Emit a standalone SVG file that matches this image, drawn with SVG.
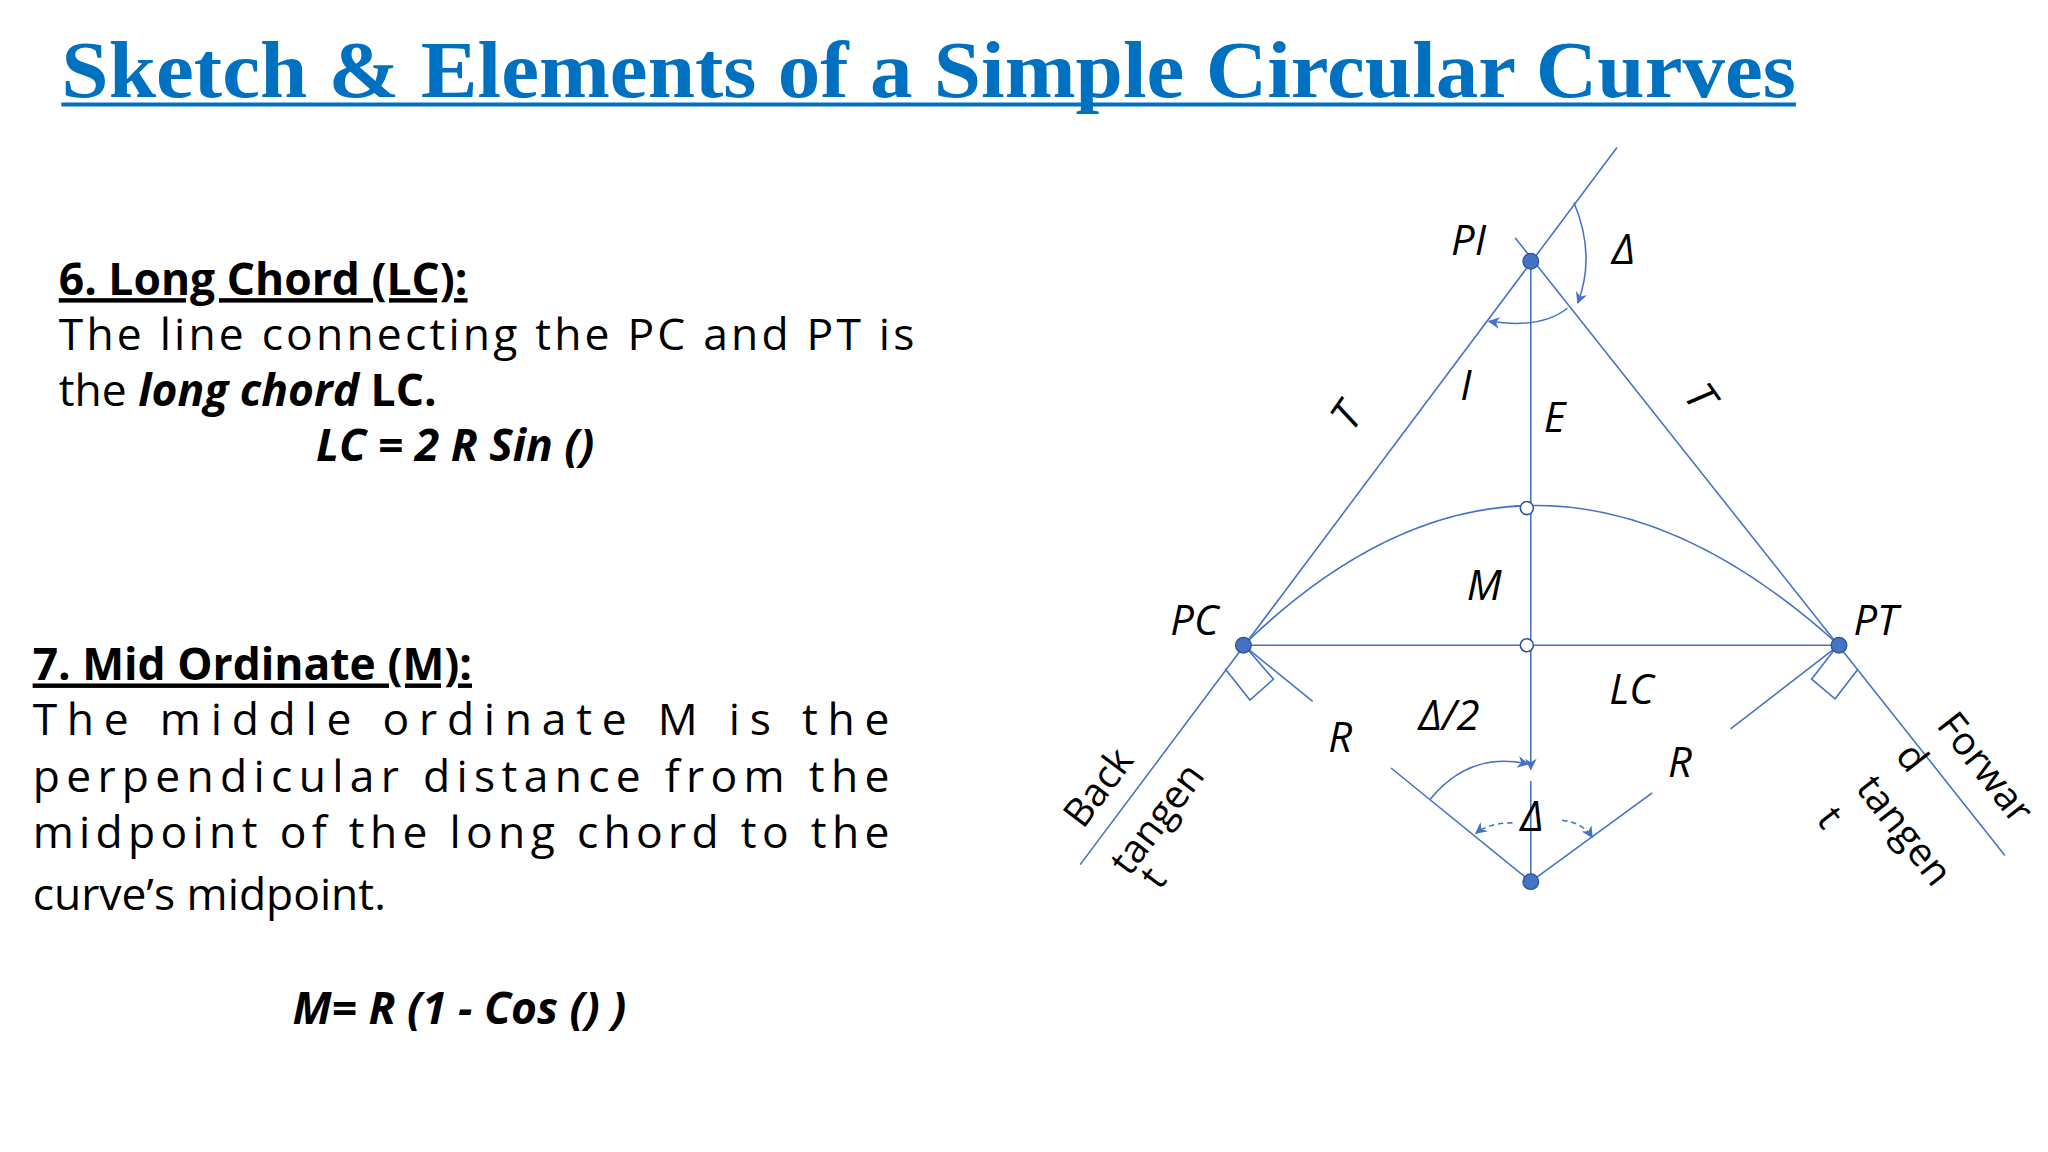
<svg xmlns="http://www.w3.org/2000/svg" width="2048" height="1152" viewBox="0 0 2048 1152">
<style>
.t{font-family:"Open Sans","Noto Sans",sans-serif;font-size:34px;fill:#000}
.b{font-weight:bold}
.l{font-family:"Open Sans","Noto Sans",sans-serif;font-style:italic;font-size:32px;fill:#000}
.n{font-family:"Open Sans","Noto Sans",sans-serif;font-size:30px;fill:#000}
.ln{stroke:#4472C4;stroke-width:1.2;fill:none}
.dot{fill:#4472C4;stroke:#2F5597;stroke-width:1}
.oc{fill:#fff;stroke:#2F5597;stroke-width:1.2}
</style>
<defs>
<marker id="ar" viewBox="0 0 10 10" refX="9" refY="5" markerWidth="9" markerHeight="9" orient="auto" markerUnits="userSpaceOnUse"><path d="M0,0 L10,5 L0,10 L3,5 Z" fill="#4472C4"/></marker>
</defs>
<rect width="2048" height="1152" fill="#fff"/>
<g transform="scale(1.30612)">
<g id="title">
<text x="47" y="74" font-family="Liberation Serif,serif" font-weight="bold" font-size="62" fill="#0070C0" textLength="1328" lengthAdjust="spacingAndGlyphs">Sketch &amp; Elements of a Simple Circular Curves</text>
<line x1="47" y1="80" x2="1375" y2="80" stroke="#0070C0" stroke-width="3"/>
</g>
<g id="sec6">
<text class="t b" x="45" y="226" text-decoration="underline">6. Long Chord (LC):</text>
<text class="t" x="45" y="268" textLength="655" lengthAdjust="spacing">The line connecting the PC and PT is</text>
<text class="t" x="45" y="311">the <tspan class="b" font-style="italic">long chord</tspan><tspan class="b"> LC.</tspan></text>
<text class="t b" font-style="italic" x="242" y="353" font-size="32">LC = 2 R Sin ()</text>
</g>
<g id="sec7">
<text class="t b" x="25" y="521" text-decoration="underline">7. Mid Ordinate (M):</text>
<text class="t" x="25" y="563" textLength="656" lengthAdjust="spacing" word-spacing="0">The middle ordinate M is the</text>
<text class="t" x="25" y="606" textLength="656" lengthAdjust="spacing">perpendicular distance from the</text>
<text class="t" x="25" y="649" textLength="656" lengthAdjust="spacing">midpoint of the long chord to the</text>
<text class="t" x="25" y="697">curve’s midpoint.</text>
<text class="t b" font-style="italic" x="224" y="784" font-size="32">M= R (1 - Cos () )</text>
</g>
<g id="connectors">
<line class="ln" x1="827" y1="662" x2="1238" y2="113"/>
<line class="ln" x1="1160" y1="182" x2="1535" y2="655"/>
<line class="ln" x1="952" y1="494" x2="1408" y2="494"/>
<line class="ln" x1="1172" y1="200" x2="1172" y2="589" marker-end="url(#ar)"/>
<line class="ln" x1="1172" y1="598" x2="1172" y2="675"/>
<path class="ln" d="M952,494 Q1172,280 1408,494"/>
<line class="ln" x1="952" y1="494" x2="1005" y2="537"/>
<line class="ln" x1="1065" y1="588" x2="1172" y2="675"/>
<line class="ln" x1="1408" y1="494" x2="1325" y2="558"/>
<line class="ln" x1="1265" y1="607" x2="1172" y2="675"/>
<path class="ln" d="M938,512 L957,536 L975,520 L956,498"/>
<path class="ln" d="M1422,513 L1405,535 L1387,520 L1404,498"/>
<path class="ln" d="M1205,155 Q1222,195 1208,232" marker-end="url(#ar)"/>
<path class="ln" d="M1200,236 Q1180,252 1140,246" marker-end="url(#ar)"/>
<path class="ln" d="M1095,612 Q1125,575 1170,585" marker-end="url(#ar)"/>
<path class="ln" d="M1158,630 Q1140,630 1130,638" stroke-dasharray="4,3" marker-end="url(#ar)"/>
<path class="ln" d="M1196,628 Q1212,630 1219,641" stroke-dasharray="4,3" marker-end="url(#ar)"/>
</g>
<g id="PI"><circle class="dot" cx="1172" cy="200" r="6"/><text class="l" x="1111" y="195">PI</text></g>
<g id="PC"><circle class="dot" cx="952" cy="494" r="6"/><text class="l" x="896" y="486">PC</text></g>
<g id="PT"><circle class="dot" cx="1408" cy="494" r="6"/><text class="l" x="1419" y="486">PT</text></g>
<g id="O"><circle class="dot" cx="1172" cy="675" r="6"/></g>
<g id="mids"><circle class="oc" cx="1169" cy="389" r="5"/><circle class="oc" cx="1169" cy="494" r="5"/></g>
<g id="labels">
<text class="l" x="1234" y="202" font-size="16">Δ</text>
<text class="l" x="1118" y="306">I</text>
<text class="l" x="1182" y="331">E</text>
<text class="l" x="1040" y="325" text-anchor="middle" transform="rotate(-55 1040 325)">T</text>
<text class="l" x="1293" y="310" text-anchor="middle" transform="rotate(55 1293 310)">T</text>
<text class="l" x="1123" y="459">M</text>
<text class="l" x="1232" y="539">LC</text>
<text class="l" x="1086" y="559">Δ/2</text>
<text class="l" x="1017" y="576">R</text>
<text class="l" x="1277" y="595">R</text>
<text class="l" x="1164" y="636">Δ</text>
<g class="n" text-anchor="middle">
<text class="n" x="849" y="609" text-anchor="middle" transform="rotate(-53 849 609)">Back</text>
<text class="n" x="894" y="633" text-anchor="middle" transform="rotate(-53 894 633)">tangen</text>
<text class="n" x="891" y="678" text-anchor="middle" transform="rotate(-53 891 678)">t</text>
<text class="n" x="1512" y="594" text-anchor="middle" transform="rotate(52 1512 594)">Forwar</text>
<text class="n" x="1456" y="586" text-anchor="middle" transform="rotate(52 1456 586)">d</text>
<text class="n" x="1450" y="642" text-anchor="middle" transform="rotate(52 1450 642)">tangen</text>
<text class="n" x="1393" y="632" text-anchor="middle" transform="rotate(52 1393 632)">t</text>
</g>
</g>
</g>
</svg>
